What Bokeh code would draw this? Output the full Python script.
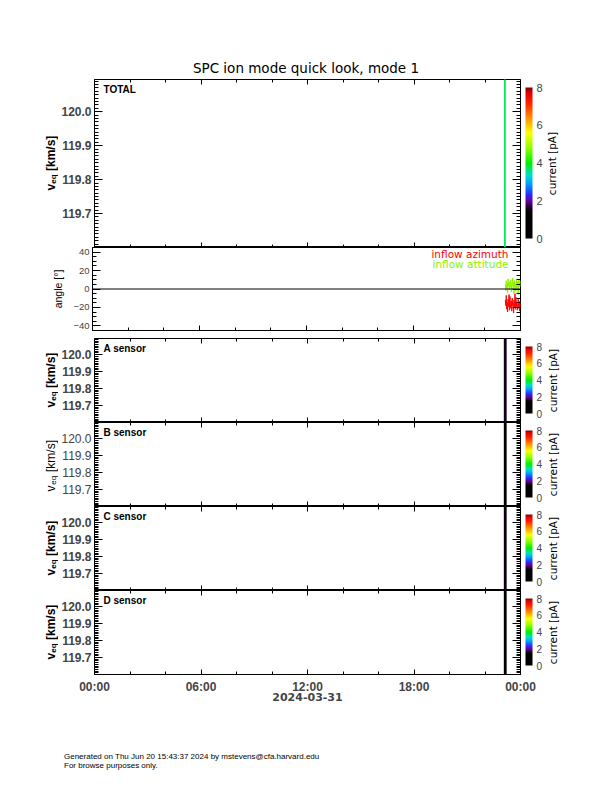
import numpy as np
from bokeh.plotting import figure, ColumnDataSource
from bokeh.layouts import column, row
from bokeh.models import (LinearAxis, FixedTicker, PrintfTickFormatter, CustomJSTickFormatter,
                          Label, Span, ColorBar, LinearColorMapper, Range1d, Div, Spacer)
from bokeh.embed import file_html
from bokeh.resources import INLINE

title_text = "SPC ion mode quick look, mode 1"
date_text = "2024-03-31"
footer_lines = ["Generated on Thu Jun 20 15:43:37 2024 by mstevens@cfa.harvard.edu",
                "For browse purposes only."]

hour_ticks = [0, 6, 12, 18, 24]
hour_labels = ["00:00", "06:00", "12:00", "18:00", "00:00"]
hour_minor = [2, 4, 8, 10, 14, 16, 20, 22]

veq_ticks = [119.7, 119.8, 119.9, 120.0]
veq_range = (119.6, 120.095)
angle_ticks = [-40, -20, 0, 20, 40]
angle_labels = ["\u221240", "\u221220", "0", "20", "40"]
angle_range = (-45, 45)
current_ticks = [0, 2, 4, 6, 8]

panel_names = ["TOTAL", "A sensor", "B sensor", "C sensor", "D sensor"]
panel_bold = [True, True, False, True, True]
# single spectrum near 23:05, its velocity bin covers the whole window
stripe_start = [23.07, 23.06, 23.06, 23.06, 23.06]
stripe_end = [23.17, 23.22, 23.22, 23.22, 23.22]
stripe_current = [3.7, 1.55, 1.2, 1.5, 0.5]
bin_low, bin_high = 119.5, 120.2

angle_start, angle_end = 23.15, 24.0
azimuth = [-12, -18, -7, -22, -15, -25, -11, -19, -6, -23, -8, -17, -21, -13, -24, -10, -18,
           -15, -26, -12, -20, -5, -22, -9, -19, -14, -23, -17, -11, -21, -15, -24, -13, -20]
attitude = [5, -2, 9, 1, 7, -4, 11, 3, 6, -1, 8, 2, 10, -3, 6, 4, 12,
            0, 7, -5, 9, 3, 5, -2, 10, 1, 8, 4, -6, 11, 6, 2, 9, 3]

# rainbow + black colour table
cmap_pos = [0.0, 0.18, 0.22, 0.25, 0.29, 0.36, 0.42, 0.50, 0.60, 0.70, 0.80, 0.90, 0.97, 1.0]
cmap_col = ["#000000", "#000000", "#3c0050", "#7000a8", "#2a2aff", "#00a0ff", "#00e0c8",
            "#00f000", "#90ff00", "#ffff00", "#ff9000", "#ff2000", "#e00000", "#800000"]


def build_palette(n=256):
    rgb = np.array([[int(c[i:i + 2], 16) for i in (1, 3, 5)] for c in cmap_col], float)
    out = []
    for x in np.linspace(0, 1, n):
        r, g, b = (np.interp(x, cmap_pos, rgb[:, k]) for k in range(3))
        out.append("#%02x%02x%02x" % (int(r), int(g), int(b)))
    return out


mapper = LinearColorMapper(palette=build_palette(), low=0, high=8)

FRAME_W = 428
RIGHT = 25        # main figure ends at x=545
RH = 22           # right helper strip
xr = Range1d(0, 24)
SANS = "Liberation Sans"
DEJA = "DejaVu Sans"


def tick_axis(ax, major_in, minor_in):
    ax.major_tick_in = major_in
    ax.major_tick_out = 0
    ax.minor_tick_in = minor_in
    ax.minor_tick_out = 0
    ax.axis_line_color = None
    ax.major_tick_line_color = "black"
    ax.minor_tick_line_color = "black"


def blank_labels(ax):
    ax.formatter = CustomJSTickFormatter(code="return ''")
    ax.major_label_text_font_size = "0px"
    ax.major_label_standoff = 0
    ax.axis_label_standoff = 0


def make_panel(h, left, yr, yticks, yminor, top=0, bottom=0, top_axis=True):
    p = figure(width=left + FRAME_W + RIGHT, height=h, x_range=xr, y_range=Range1d(*yr), tools="",
               toolbar_location=None, output_backend="svg",
               min_border_left=left, min_border_right=RIGHT,
               min_border_top=top, min_border_bottom=bottom)
    p.outline_line_color = "black"
    p.xgrid.visible = False
    p.ygrid.visible = False
    xt = FixedTicker(ticks=hour_ticks, minor_ticks=hour_minor)
    yt = FixedTicker(ticks=yticks, minor_ticks=yminor)
    p.below[0].ticker = xt
    p.left[0].ticker = yt
    right_ax = LinearAxis(ticker=yt)
    p.add_layout(right_ax, "right")
    tick_axis(p.below[0], 5, 3)
    tick_axis(p.left[0], 8, 4)
    tick_axis(right_ax, 8, 4)
    blank_labels(right_ax)
    blank_labels(p.below[0])
    if top_axis:
        top_ax = LinearAxis(ticker=xt)
        p.add_layout(top_ax, "above")
        tick_axis(top_ax, 5, 3)
        blank_labels(top_ax)
    return p


def side_fig(w, h):
    s = figure(width=w, height=h, x_range=(0, w), y_range=(0, h), tools="", toolbar_location=None,
               output_backend="svg", min_border=0, x_axis_location=None, y_axis_location=None)
    s.outline_line_color = None
    s.grid.visible = False
    return s


def pad_below(fig, w, bottom):
    if bottom:
        return column(fig, Spacer(width=w, height=bottom, margin=0), spacing=0)
    return fig


def screen_label(p, x, y, text, size, font=SANS, style="normal", color="black",
                 align="left", baseline="middle", angle=0):
    p.add_layout(Label(x=x, y=y, x_units="screen", y_units="screen", text=text,
                       text_font=font, text_font_size=size, text_font_style=style,
                       text_color=color, text_align=align, text_baseline=baseline, angle=angle))


def veq_row(i, fh, bottom=0):
    bold = panel_bold[i]
    style = "bold" if bold else "normal"
    HL = 58
    vminor = [round(119.6 + 0.01 * k, 2) for k in range(50)]
    p = make_panel(fh + bottom, 92 - HL, veq_range, veq_ticks, vminor, bottom=bottom)
    ax = p.left[0]
    ax.formatter = PrintfTickFormatter(format="%.1f")
    ax.major_label_text_font = SANS
    ax.major_label_text_font_size = "12px"
    ax.major_label_text_font_style = style
    ax.major_label_standoff = 3
    src = ColumnDataSource(dict(left=[stripe_start[i]], right=[stripe_end[i]], bottom=[bin_low],
                                top=[bin_high], current=[stripe_current[i]]))
    p.quad(left="left", right="right", bottom="bottom", top="top", source=src,
           fill_color={"field": "current", "transform": mapper}, line_color=None)
    screen_label(p, 9, fh - 4, panel_names[i], "10px", style="bold", baseline="top")
    big = i == 0
    cb = ColorBar(color_mapper=mapper, ticker=FixedTicker(ticks=current_ticks), width=7,
                  height=fh - 17, location=(431, 9), padding=0, margin=0, label_standoff=4,
                  major_label_text_font=SANS, major_label_text_font_size="11px" if big else "10px",
                  major_tick_line_color=None, bar_line_color=None, border_line_color=None,
                  background_fill_alpha=0)
    p.add_layout(cb, "center")

    # v_eq [km/s] with subscript, reading bottom to top
    lf = side_fig(HL, fh)
    y0 = fh / 2 - 27
    screen_label(lf, 50, y0, "v", "12px", style=style, baseline="alphabetic", angle=np.pi / 2)
    screen_label(lf, 53, y0 + 6.7, "eq", "8px", style=style, baseline="alphabetic", angle=np.pi / 2)
    screen_label(lf, 50, y0 + 19.5, "[km/s]", "12px", style=style, baseline="alphabetic",
                 angle=np.pi / 2)
    rf = side_fig(RH, fh)
    screen_label(rf, 6 if big else 7, fh / 2, "current [pA]", "10.5px", font=DEJA,
                 align="center", angle=np.pi / 2)
    return p, row(pad_below(lf, HL, bottom), p, pad_below(rf, RH, bottom), spacing=0)


title_div = Div(text='<div style="width:520px;margin-left:46px;padding-top:60px;text-align:center;'
                     'font-family:\'DejaVu Sans\';font-size:13.5px;line-height:16px;color:black">'
                     + title_text + '</div>', width=566, height=79, margin=0)

p_total, row_total = veq_row(0, 168)

# flow angle panel
HLA = 66
p_ang = make_panel(91, 92 - HLA, angle_range, angle_ticks, list(range(-45, 46, 5)), bottom=8,
                   top_axis=False)
ax = p_ang.left[0]
ax.major_label_overrides = dict(zip(angle_ticks, angle_labels))
ax.major_label_text_font = SANS
ax.major_label_text_font_size = "9.5px"
ax.major_label_standoff = 3
p_ang.add_layout(Span(location=0, dimension="width", line_color="black", line_width=1))
t = np.linspace(angle_start, angle_end, len(azimuth))
p_ang.line(t, azimuth, line_color="#ff0000", line_width=1)
p_ang.line(t, attitude, line_color="#90f000", line_width=1)
screen_label(p_ang, 416, 77, "inflow azimuth", "10.5px", font=DEJA, color="#ff0000", align="right")
screen_label(p_ang, 416, 67, "inflow attitude", "10.5px", font=DEJA, color="#90f000", align="right")
lf_ang = side_fig(HLA, 83)
screen_label(lf_ang, 57, 83 / 2, "angle [\u00b0]", "10.5px", align="center", angle=np.pi / 2)
row_ang = row(pad_below(lf_ang, HLA, 8), p_ang, Spacer(width=RH, height=91, margin=0), spacing=0)

# sensor panels
_, row_a = veq_row(1, 84)
_, row_b = veq_row(2, 84)
_, row_c = veq_row(3, 84)
p_d, row_d = veq_row(4, 84, bottom=40)
bx = p_d.below[0]
bx.formatter = PrintfTickFormatter(format="%d")
bx.major_label_overrides = dict(zip(hour_ticks, hour_labels))
bx.major_label_text_font = SANS
bx.major_label_text_font_size = "12px"
bx.major_label_text_font_style = "bold"
bx.major_label_standoff = 5
bx.axis_label = date_text
bx.axis_label_text_font = DEJA
bx.axis_label_text_font_size = "11px"
bx.axis_label_text_font_style = "bold"
bx.axis_label_standoff = -4

footer_div = Div(text='<div style="margin-left:64px;padding-top:38px;font-family:\'Liberation Sans\';'
                      'font-size:8px;line-height:9px;color:black">'
                      + footer_lines[0] + '<br>' + footer_lines[1] + '</div>',
                 width=566, height=64, margin=0)

layout = column(title_div, row_total, row_ang, row_a, row_b, row_c, row_d, footer_div, spacing=0)
open("out.html", "w").write(file_html(layout, INLINE))
